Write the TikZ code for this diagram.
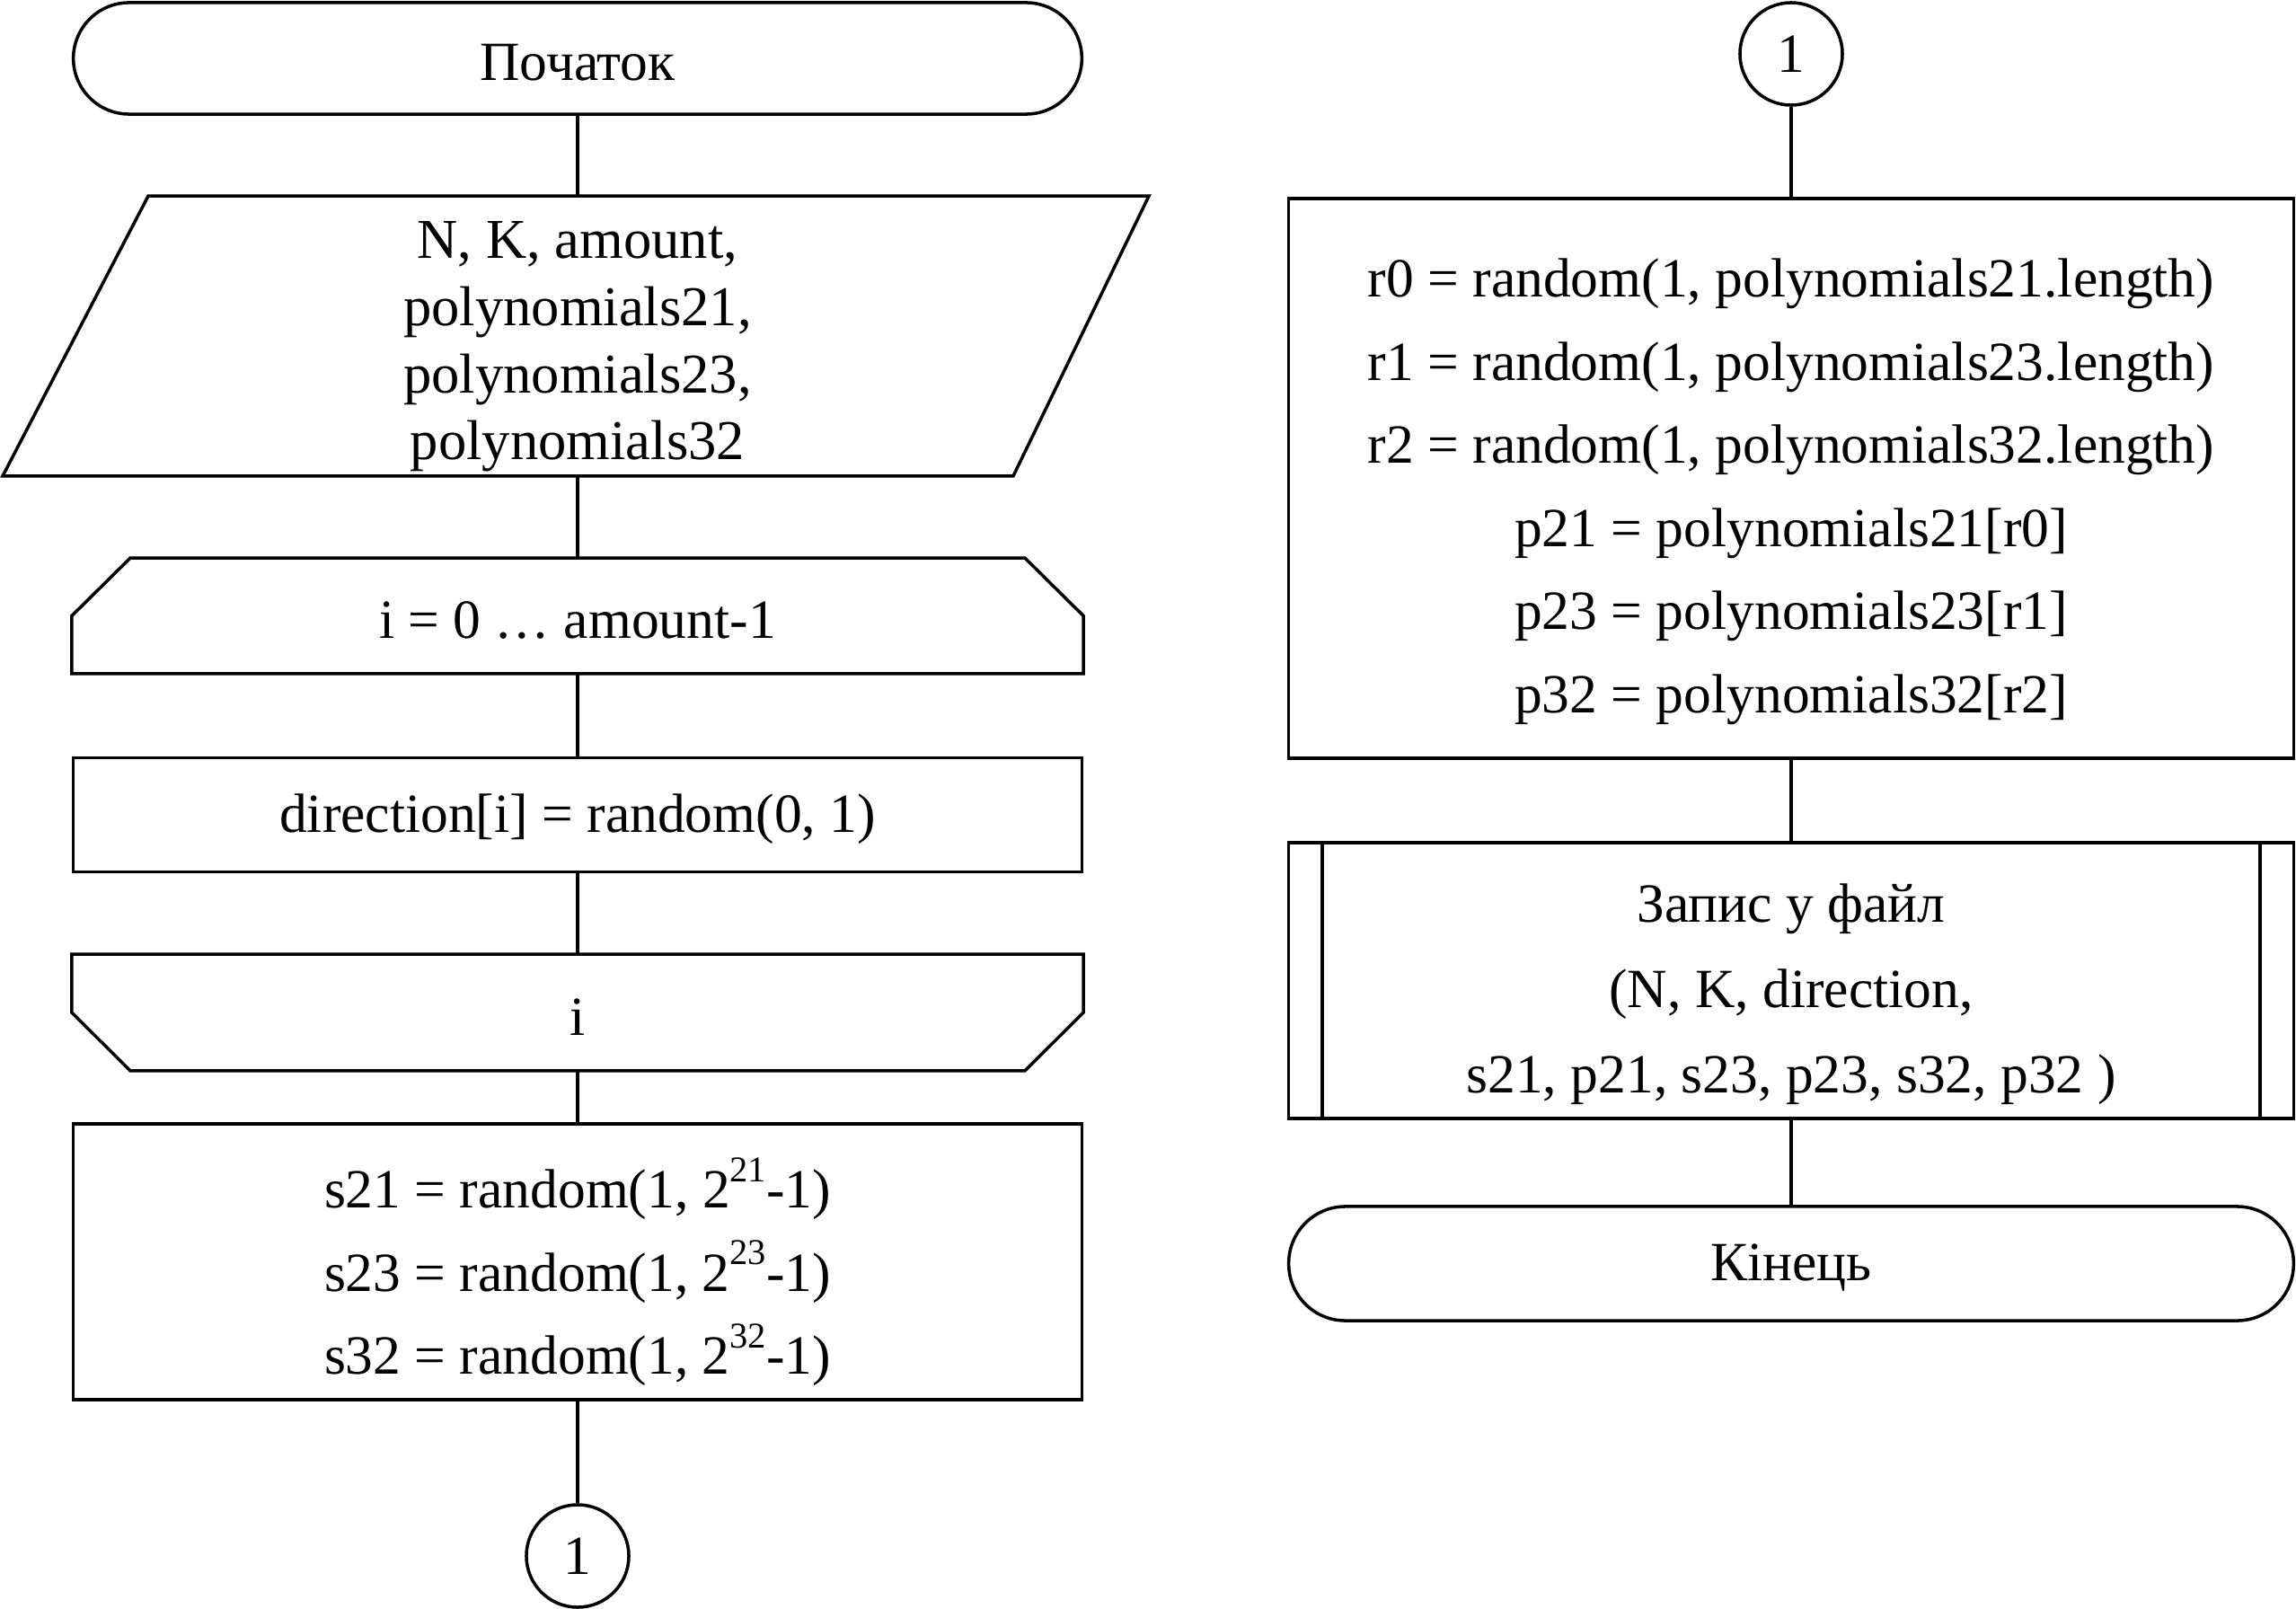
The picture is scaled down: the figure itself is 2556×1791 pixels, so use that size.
\documentclass[tikz,border=0pt]{standalone}
\usepackage{fontspec}
\setmainfont{Liberation Serif}
\usetikzlibrary{calc,shapes.geometric}
\tikzset{
  txt/.style={font=\fontsize{17.5}{26.3}\selectfont, align=center, inner sep=0pt},
  blk/.style={draw, inner sep=0pt, minimum width=11.22cm},
  rblk/.style={draw, inner sep=0pt, minimum width=11.18cm},
  hid/.style={draw=none, inner sep=0pt, minimum width=11.22cm},
  conn/.style={txt, draw, circle, minimum size=1.14cm},
}
\newcommand{\supnum}[1]{\raisebox{1.05ex}{\fontsize{11.5}{11.5}\selectfont #1}}
\begin{document}
\begin{tikzpicture}[x=0.01cm, y=-0.01cm, line width=1pt]
\useasboundingbox (0,0) rectangle (2556,1791);

% ---------- left column ----------
\node[blk, rounded corners=0.62cm, minimum height=1.24cm] (start) at (643,65) {};
\node[txt] (start-t) at ($(start.center)+(0,5)$) {Початок};

\node[hid, minimum width=9.5cm, minimum height=3.08cm] (inp) at (643,374) {};
\draw ($(inp.north)+(-478,0)$) -- ($(inp.north)+(636,0)$) -- ($(inp.south)+(485,0)$) -- ($(inp.south)+(-640,0)$) -- cycle;
\node[txt, font=\fontsize{17.8}{21.2}\selectfont] (inp-t) at ($(inp.center)+(0,12)$)
  {N, K, amount,\\polynomials21,\\polynomials23,\\polynomials32};

\node[hid, minimum height=1.25cm] (ls) at (643,685.5) {};
\draw (ls.south west) -- (ls.west) -- ($(ls.north west)+(65,0)$) -- ($(ls.north east)+(-65,0)$) -- (ls.east) -- (ls.south east) -- cycle;
\node[txt] (ls-t) at ($(ls.center)+(0,5)$) {i = 0 … amount-1};

\node[blk, minimum height=1.27cm] (dir) at (643,907) {};
\node[txt] (dir-t) at ($(dir.center)+(0,5)$) {direction[i] = random(0, 1)};

\node[hid, minimum height=1.26cm] (le) at (643,1127) {};
\draw (le.north west) -- (le.west) -- ($(le.south west)+(65,0)$) -- ($(le.south east)+(-65,0)$) -- (le.east) -- (le.north east) -- cycle;
\node[txt] (le-t) at ($(le.center)+(0,5)$) {i};

\node[blk, minimum height=3.07cm] (sbox) at (643,1404.5) {};
\node[txt] (sbox-t) at ($(sbox.center)+(0,11)$)
  {s21 = random(1, 2\supnum{21}-1)\\s23 = random(1, 2\supnum{23}-1)\\s32 = random(1, 2\supnum{32}-1)};

\node[conn] (c1) at (643,1732) {1};

\draw (start) -- (inp);
\draw (inp) -- (ls);
\draw (ls) -- (dir);
\draw (dir) -- (le);
\draw (le) -- (sbox);
\draw (sbox) -- (c1);

% ---------- right column ----------
\node[conn] (c2) at (1994,60) {1};

\node[rblk, minimum height=6.23cm] (rbox) at (1994,532.5) {};
\node[txt] (rbox-t) at ($(rbox.center)+(0,15)$)
  {r0 = random(1, polynomials21.length)\\r1 = random(1, polynomials23.length)\\r2 = random(1, polynomials32.length)\\p21 = polynomials21[r0]\\p23 = polynomials23[r1]\\p32 = polynomials32[r2]};

\node[rblk, minimum height=3.07cm] (sub) at (1994,1091.5) {};
\draw ($(sub.north west)+(39,0)$) -- ($(sub.south west)+(39,0)$);
\draw ($(sub.north east)+(-39,0)$) -- ($(sub.south east)+(-39,0)$);
\node[txt, font=\fontsize{17.5}{27}\selectfont] (sub-t) at ($(sub.center)+(0,15)$)
  {Запис у файл\\(N, K, direction,\\s21, p21, s23, p23, s32, p32 )};

\node[rblk, rounded corners=0.63cm, minimum height=1.27cm] (fin) at (1994,1406.5) {};
\node[txt] (fin-t) at ($(fin.center)+(0,5)$) {Кінець};

\draw (c2) -- (rbox);
\draw (rbox) -- (sub);
\draw (sub) -- (fin);
\end{tikzpicture}
\end{document}
